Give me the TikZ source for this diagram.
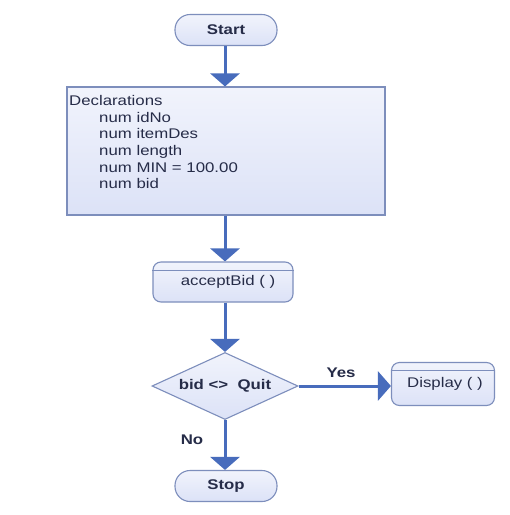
\documentclass[tikz,border=0pt]{standalone}
\usepackage{fontspec}
\setmainfont{Liberation Sans}[FakeStretch=1.2]
\usetikzlibrary{arrows.meta,shapes.geometric}
\definecolor{edgec}{RGB}{125,142,188}
\definecolor{arrc}{RGB}{72,108,188}
\definecolor{fillc}{RGB}{220,226,247}
\definecolor{txtc}{RGB}{38,44,72}
\begin{document}
\begin{tikzpicture}[x=1pt,y=-1pt,
  box/.style={draw=edgec, line width=1.1pt, top color=white!60!fillc, bottom color=fillc,
              text=txtc, inner sep=0pt, font=\fontsize{14}{16.7}\selectfont},
  term/.style={box, rounded corners=15pt, minimum width=102pt, minimum height=31pt, font=\fontsize{14}{16.7}\selectfont\bfseries},
  proc/.style={box, rounded corners=8pt},
  decide/.style={box, diamond, aspect=2.2, minimum width=146pt, minimum height=67pt, font=\fontsize{14}{16.7}\selectfont\bfseries},
  flow/.style={draw=arrc, line width=3pt, -{Triangle[width=29pt,length=13pt]}},
  lbl/.style={text=txtc, font=\fontsize{14}{16.7}\selectfont\bfseries},
  topline/.style={draw=edgec, line width=1pt}]
\useasboundingbox (0,0) rectangle (510,515);
\fill[white] (0,0) rectangle (510,515);

\node[term] (start) at (226,30) {Start};
\node[box, minimum width=318pt, minimum height=128pt] (dec) at (226,151) {};
\node[anchor=north west, align=left, inner sep=0pt, text=txtc,
      font=\fontsize{14}{16.7}\selectfont] (dect) at (69,95)
  {Declarations\\
   \hspace*{30pt}num idNo\\
   \hspace*{30pt}num itemDes\\
   \hspace*{30pt}num length\\
   \hspace*{30pt}num MIN = 100.00\\
   \hspace*{30pt}num bid};
\node[proc, minimum width=140pt, minimum height=40pt] (acc) at (223,282) {\hspace*{10pt}acceptBid ( )};
\draw[topline] ([yshift=-9pt]acc.north west) -- ([yshift=-9pt]acc.north east);
\node[decide] (dia) at (225,386) {bid <>\ \ Quit};
\node[proc, minimum width=103pt, minimum height=43pt] (disp) at (443,384) {\hspace*{4pt}Display ( )};
\draw[topline] ([yshift=-9pt]disp.north west) -- ([yshift=-9pt]disp.north east);
\node[term] (stop) at (226,486) {Stop};

\draw[flow] (start.south -| dia.north) -- (dec.north -| dia.north);
\draw[flow] (dec.south -| dia.north) -- (acc.north -| dia.north);
\draw[flow] (acc.south -| dia.north) -- (dia.north);
\draw[flow] (dia.east) -- (disp.west |- dia.east);
\draw[flow] (dia.south) -- (stop.north -| dia.south);

\node[lbl] (yes) at (341,373) {Yes};
\node[lbl] (no) at (192,440) {No};
\end{tikzpicture}
\end{document}
